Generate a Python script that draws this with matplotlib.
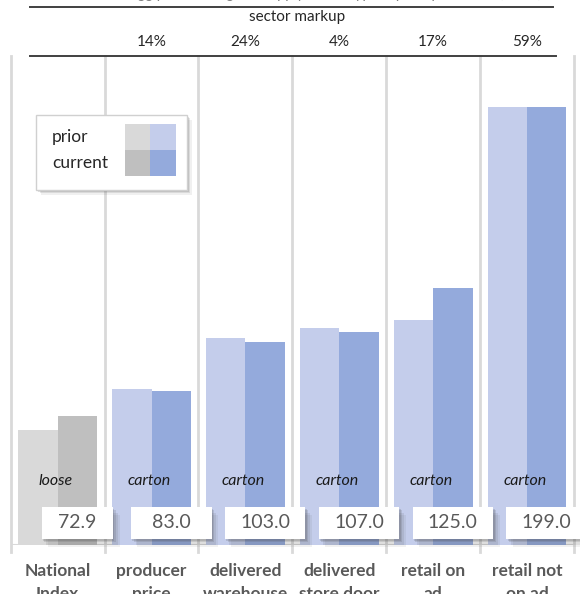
import matplotlib
matplotlib.use("Agg")
import matplotlib.pyplot as plt
from matplotlib.patches import Rectangle
from matplotlib.lines import Line2D

plt.rcParams['font.family'] = ['Lato', 'DejaVu Sans']

categories = ["National\nIndex", "producer\nprice", "delivered\nwarehouse",
              "delivered\nstore door", "retail on\nad", "retail not\non ad"]
prior = [67.0, 83.8, 104.6, 108.6, 112.0, 199.0]
current = [72.9, 83.0, 103.0, 107.0, 125.0, 199.0]
value_labels = ["72.9", "83.0", "103.0", "107.0", "125.0", "199.0"]
pack = ["loose", "carton", "carton", "carton", "carton", "carton"]
markup = ["", "14%", "24%", "4%", "17%", "59%"]

W, H = 580, 594
fig = plt.figure(figsize=(W / 100, H / 100), dpi=100)


def fx(px):
    return px / W


def fy(py):
    return 1 - py / H


ax = fig.add_axes([fx(10.7), fy(545), fx(574) - fx(10.7), fy(55.7) - fy(545)])
ax.set_xlim(-0.5, 5.5)
ax.set_ylim(20, 220)
ax.axis('off')

gray_prior, gray_cur = "#D9D9D9", "#BFBFBF"
blue_prior, blue_cur = "#C4CDEB", "#94AADC"
prior_cols = [gray_prior] + [blue_prior] * 5
cur_cols = [gray_cur] + [blue_cur] * 5

xs = list(range(len(categories)))
bw = 0.42
ax.bar([x - bw / 2 for x in xs], prior, bw, bottom=0, color=prior_cols, zorder=2)
ax.bar([x + bw / 2 for x in xs], current, bw, bottom=0, color=cur_cols, zorder=2)

# separators and baseline
for i in range(len(categories) + 1):
    ax.add_line(Line2D([i - 0.5, i - 0.5], [17, 220], color="#D9D9D9", lw=2,
                       clip_on=False, zorder=1))
ax.axhline(20, color="#D9D9D9", lw=1.5, zorder=1)

# value boxes with soft shadow
for x, lab, pk in zip(xs, value_labels, pack):
    bx = x + 0.21
    w = 0.76 if x == 0 else 0.86
    for k, a in [(0.07, 0.07), (0.05, 0.10), (0.03, 0.14), (0.015, 0.16)]:
        ax.add_patch(Rectangle((bx - w / 2 + k, 22.4 - k * 45), w, 13.1,
                               facecolor="#404040", alpha=a, lw=0, zorder=3,
                               clip_on=False))
    ax.add_patch(Rectangle((bx - w / 2, 22.4), w, 13.1, facecolor="white",
                           lw=0, zorder=4, clip_on=False))
    ax.text(bx, 29.0, lab, ha='center', va='center', fontsize=14,
            color="#595959", zorder=5, clip_on=False)
    ax.text(x - 0.02, 46.3, pk, ha='center', va='center', fontsize=11.5,
            style='italic', color="#1a1a1a", zorder=5)

# category labels (second line runs off the bottom, as in the original)
for x, c in zip(xs, categories):
    ax.text(x, 20 - 18 / 2.446, c, ha='center', va='top',
            fontsize=12.5, fontweight='bold', color="#595959",
            linespacing=1.5, clip_on=False)

# header: title (cut off at top), rules, sector markup
fig.text(fx(335), fy(-2.5), "Egg prices along the supply chain: typical price per dozen (cents)",
         ha='center', va='baseline', fontsize=10.5, color="#808080")
fig.add_artist(Line2D([fx(30), fx(553)], [fy(7.3), fy(7.3)], color="#404040", lw=1.4))
fig.add_artist(Line2D([fx(30), fx(556)], [fy(55.7), fy(55.7)], color="#404040", lw=1.4))
fig.text(fx(297), fy(17.5), "sector markup", ha='center', va='center',
         fontsize=11, color="#262626")
for x, m in zip(xs, markup):
    if m:
        ax.text(x, 1.0 + 13.4 / 489.3, m, transform=ax.get_xaxis_transform(),
                ha='center', va='center', fontsize=11, color="#262626")

# legend drawn by hand
lx0, ly0, lx1, ly1 = 36, 115, 187, 190
for k, a in [(5, 0.08), (3.5, 0.12), (2, 0.16)]:
    fig.add_artist(Rectangle((fx(lx0 + k), fy(ly1 + k)), fx(lx1) - fx(lx0),
                             fy(ly0) - fy(ly1), transform=fig.transFigure,
                             facecolor="#404040", alpha=a, lw=0))
fig.add_artist(Rectangle((fx(lx0), fy(ly1)), fx(lx1) - fx(lx0), fy(ly0) - fy(ly1),
                         transform=fig.transFigure, facecolor="white",
                         edgecolor="#D0D0D0", lw=1))
sw = [(125, 124, gray_prior), (150, 124, blue_prior),
      (125, 150, gray_cur), (150, 150, blue_cur)]
for sx, sy, col in sw:
    fig.add_artist(Rectangle((fx(sx), fy(sy + 26)), fx(25.5), 26 / H,
                             transform=fig.transFigure, facecolor=col, lw=0))
fig.text(fx(52), fy(137), "prior", ha='left', va='center', fontsize=12.5, color="#262626")
fig.text(fx(52), fy(163), "current", ha='left', va='center', fontsize=12.5, color="#262626")

fig.savefig("out.png", dpi=100)
